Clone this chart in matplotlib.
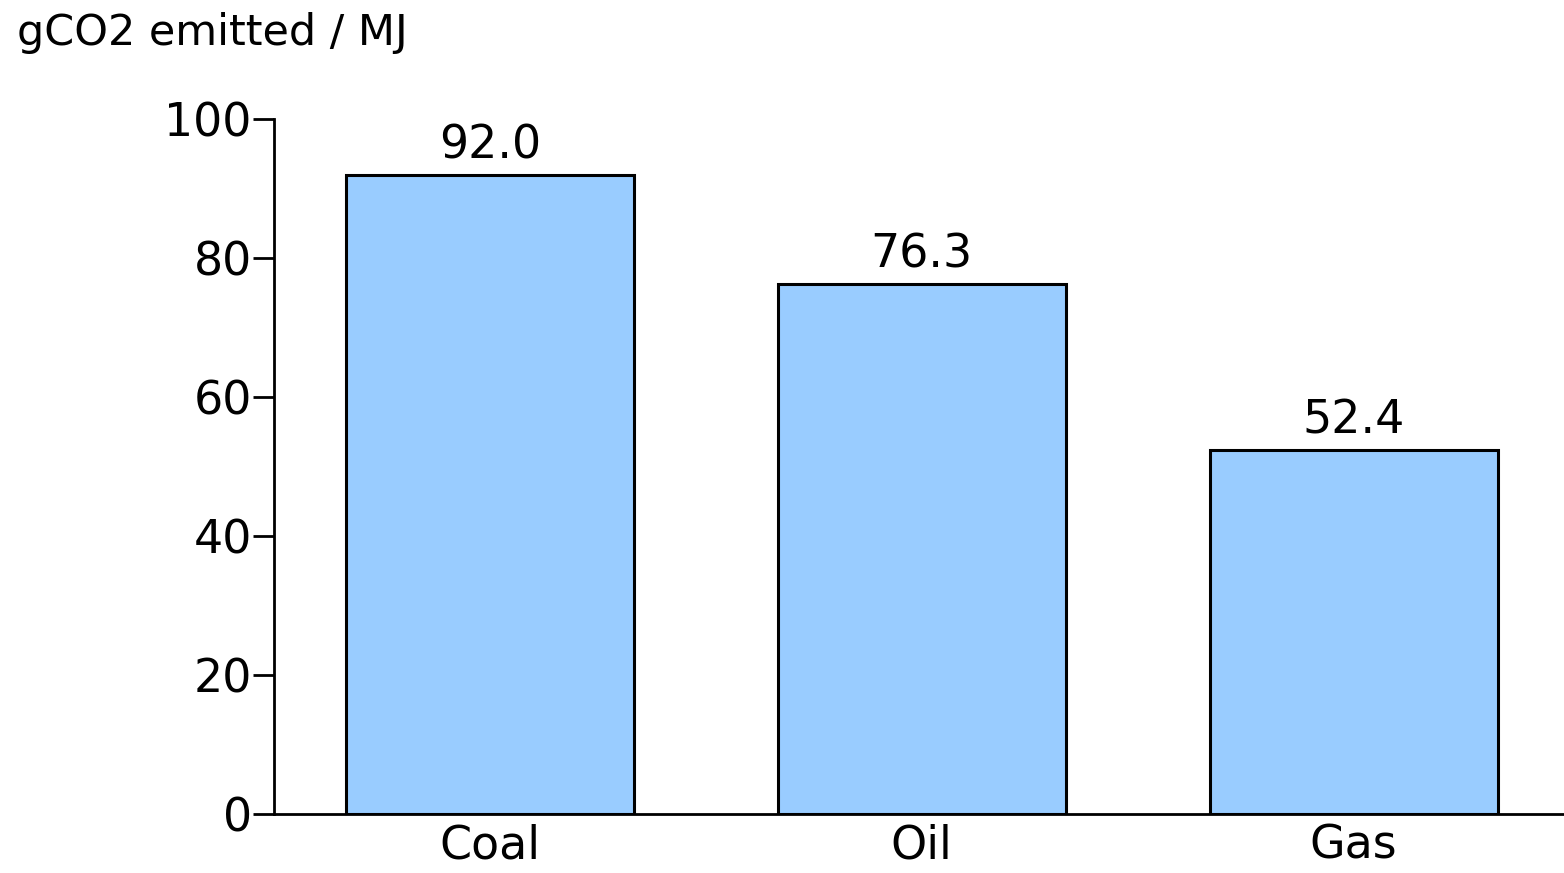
import matplotlib
matplotlib.use("Agg")
import matplotlib.pyplot as plt

categories = ["Coal", "Oil", "Gas"]
values = [92.0, 76.3, 52.4]
yticks = [0, 20, 40, 60, 80, 100]

plt.rcParams['font.family'] = ['DejaVu Sans']

fig = plt.figure(figsize=(15.64, 8.73), dpi=100)
ax = fig.add_axes([274/1564, 59/873, (1563-274)/1564, (814-119)/873])

x = list(range(len(categories)))
ax.bar(x, values, width=0.667, color="#99CCFF", edgecolor="black", linewidth=2.2, zorder=2)

for xi, v in zip(x, values):
    ax.text(xi, v + 2.3, f"{v:.1f}", ha="center", va="baseline", fontsize=33)

ax.set_xlim(-0.5, 2.485)
ax.set_ylim(0, 100)
ax.set_yticks(yticks)
ax.set_yticklabels([str(t) for t in yticks], fontsize=33)
ax.set_xticks(x)
ax.set_xticklabels(categories, fontsize=33)
ax.tick_params(axis="y", length=15, width=2, pad=1, direction="out")
ax.tick_params(axis="x", length=0, pad=7)

for s in ["top", "right"]:
    ax.spines[s].set_visible(False)
for s in ["left", "bottom"]:
    ax.spines[s].set_linewidth(2)

fig.text(17/1564, 1 - 45/873, "gCO2 emitted / MJ", fontsize=31, ha="left", va="baseline")

fig.savefig("out.png", dpi=100)
